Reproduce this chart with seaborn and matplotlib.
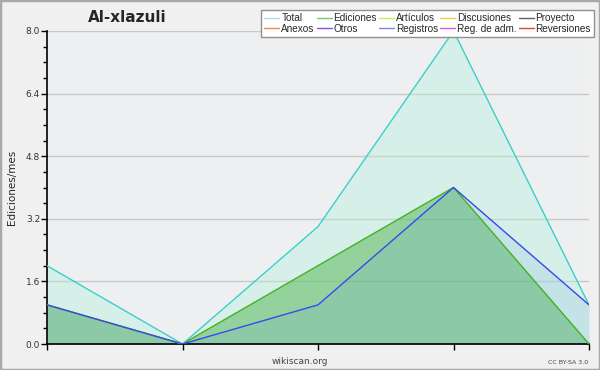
import numpy as np
import pandas as pd
import matplotlib
matplotlib.use('Agg')
import matplotlib.pyplot as plt
import seaborn as sb
from matplotlib.lines import Line2D
from matplotlib.patches import Rectangle


months = [0, 1, 2, 3, 4]
total = [2, 0, 3, 8, 1]
ediciones = [1, 0, 2, 4, 0]
articulos = [1, 0, 2, 4, 0]
registros = [1, 0, 1, 4, 1]

legend_names = ['Total', 'Ediciones', 'Artículos', 'Discusiones', 'Proyecto',
                'Anexos', 'Otros', 'Registros', 'Reg. de adm.', 'Reversiones']
legend_colors = ['#a8e4e0', '#78c478', '#c8f050', '#f4c848', '#606060',
                 '#f08850', '#8850e0', '#7888f0', '#e050e0', '#e04040']

df = pd.DataFrame({'mes': months * 4,
                   'valor': total + ediciones + articulos + registros,
                   'serie': ['Total'] * 5 + ['Ediciones'] * 5 + ['Artículos'] * 5 + ['Registros'] * 5})

line_colors = {'Total': '#38d0c8', 'Ediciones': '#40b040', 'Artículos': '#a8e030', 'Registros': '#3848f0'}
fill_colors = {'Total': ('#b4f0dc', 0.38), 'Ediciones': ('#40b040', 0.45),
               'Artículos': ('#a8e030', 0.0), 'Registros': ('#6aa0e0', 0.16)}

sb.set_style('white')
plt.rcParams['font.family'] = ['DejaVu Sans']

fig = plt.figure(figsize=(6, 3.7), dpi=100, facecolor='#f0f0f0')
ax = fig.add_axes([47/600, 1 - 344/370, (589 - 47)/600, (344 - 31)/370])
ax.set_facecolor('#eeeff1')

for name in ['Total', 'Ediciones', 'Artículos', 'Registros']:
  sub = df[df.serie == name]
  color, alpha = fill_colors[name]
  if alpha > 0:
    ax.fill_between(sub.mes, 0, sub.valor, color=color, alpha=alpha, lw=0, zorder=1)

sb.lineplot(data=df, x='mes', y='valor', hue='serie', palette=line_colors,
            hue_order=['Total', 'Artículos', 'Ediciones', 'Registros'],
            lw=1, legend=False, ax=ax, zorder=3)

ax.set_xlim(0, 4)
ax.set_ylim(0, 8)
ax.set_yticks(np.arange(0, 8.01, 1.6))
ax.set_yticks(np.arange(0, 8.01, 0.4), minor=True)
ax.set_yticklabels([f'{v:.1f}' for v in np.arange(0, 8.01, 1.6)], fontsize=6.5, color='#333333')
ax.set_xticks(months)
ax.set_xticklabels([])
ax.tick_params(axis='y', which='major', length=4, width=1, color='black', pad=1, left=True)
ax.tick_params(axis='y', which='minor', length=3, width=1, color='black', left=True)
ax.tick_params(axis='x', length=4, width=1, color='black', bottom=True)
ax.grid(axis='y', which='major', color='#c8c8c8', lw=1, zorder=0)
ax.set_axisbelow(True)
for s in ['top', 'right']:
  ax.spines[s].set_visible(False)
for s in ['left', 'bottom']:
  ax.spines[s].set_color('black')
  ax.spines[s].set_linewidth(1.2)
ax.set_xlabel('')
ax.set_ylabel('Ediciones/mes', fontsize=7.5, labelpad=6)

fig.text(127/600, 1 - 17/370, 'Al-xlazuli', fontsize=11, fontweight='bold', ha='center', va='center')
fig.text(300/600, 1 - 361/370, 'wikiscan.org', fontsize=6.5, ha='center', va='center', color='#444444')
fig.text(588/600, 1 - 362/370, 'CC BY-SA 3.0', fontsize=4.5, ha='right', va='center', color='#444444')

handles = [Line2D([], [], color=c, lw=1) for c in legend_colors]
order = [0, 5, 1, 6, 2, 7, 3, 8, 4, 9]
leg = fig.legend([handles[i] for i in order], [legend_names[i] for i in order], ncol=5,
                 loc='upper right', bbox_to_anchor=(594/600, 1 - 10/370),
                 prop={'family': 'Liberation Sans', 'size': 7.2},
                 frameon=True, fancybox=False, edgecolor='#909090', facecolor='white',
                 framealpha=1, handlelength=1.5, handletextpad=0.2, columnspacing=0.2,
                 labelspacing=0.05, borderpad=0.3, borderaxespad=0)
leg.get_frame().set_linewidth(1)

fig.patches.append(Rectangle((0, 0), 1, 1, transform=fig.transFigure, fill=False,
                             edgecolor='#a8a8a8', lw=2.5))

fig.savefig('out.png', dpi=100, facecolor=fig.get_facecolor())
